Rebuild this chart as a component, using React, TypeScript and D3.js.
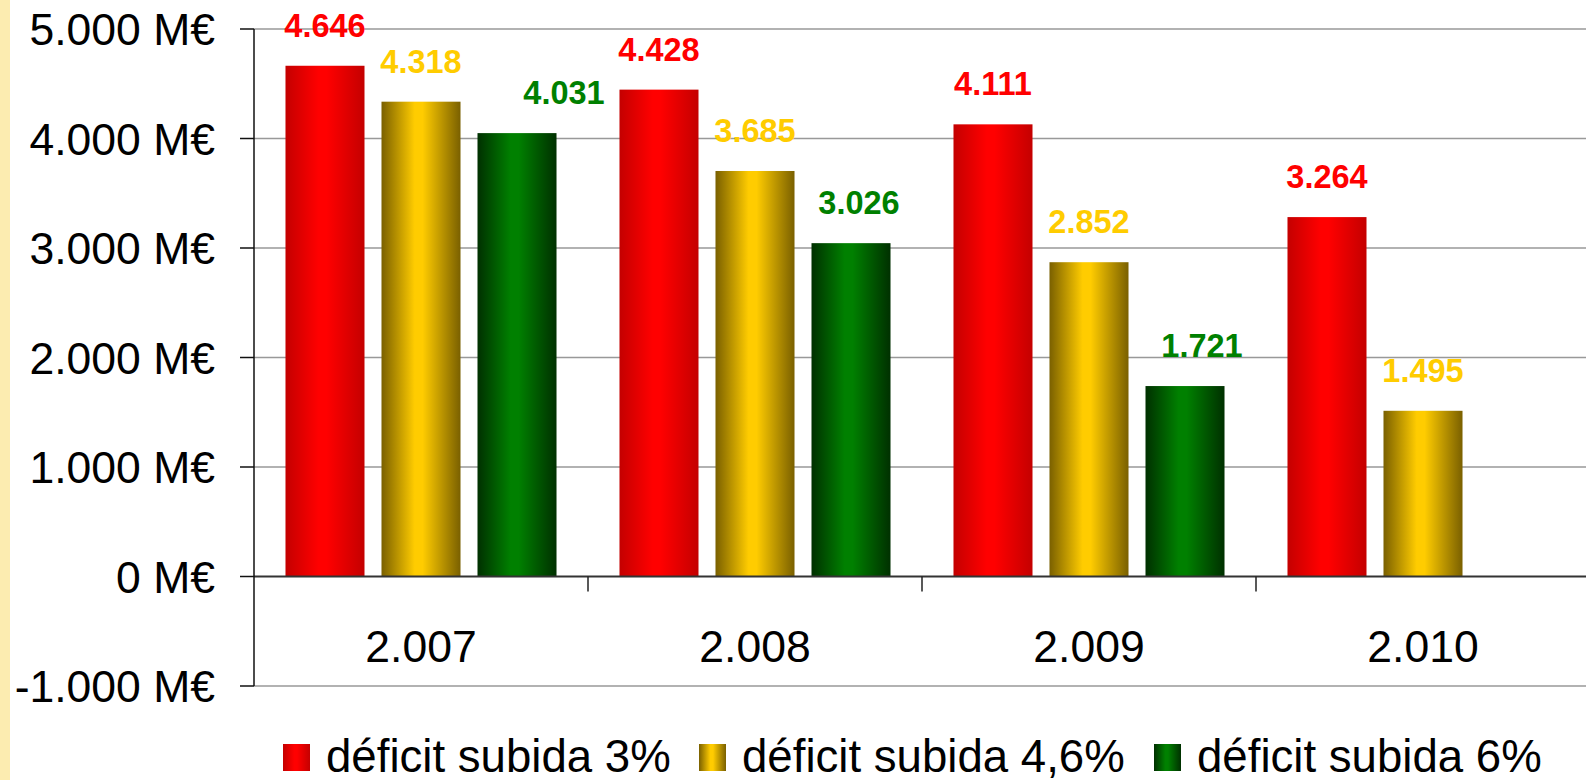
import React from "react";
import * as d3 from "d3";

const years = ["2.007", "2.008", "2.009", "2.010"];
const seriesNames = ["déficit subida 3%", "déficit subida 4,6%", "déficit subida 6%"];
const deficit3 = [4646, 4428, 4111, 3264];
const deficit46 = [4318, 3685, 2852, 1495];
const deficit6 = [4031, 3026, 1721, null];
const yTicks = [-1000, 0, 1000, 2000, 3000, 4000, 5000];

// colours: [edge, centre, label]
const palette = [
  ["#c40000", "#ff0000", "#ff0000"],
  ["#7a6000", "#ffcc00", "#ffcc00"],
  ["#003000", "#008000", "#008000"],
];
// the green labels were dragged sideways by hand in the original
const labelShift = [
  [0, 0, 0, 0],
  [0, 0, 0, 0],
  [47, 8, 17, 0],
];

const W = 1586;
const H = 780;
const font = "'Liberation Sans', Arial, sans-serif";

const fmt = (v: number) => {
  const s = Math.abs(v).toString();
  const withDots = s.replace(/\B(?=(\d{3})+(?!\d))/g, ".");
  return (v < 0 ? "-" : "") + withDots;
};

export default function App() {
  const values = [deficit3, deficit46, deficit6];
  const left = 254;
  const x0 = d3.scaleBand<string>().domain(years).range([left, left + 334 * 4]).padding(0);
  const x1 = d3
    .scaleBand<number>()
    .domain([0, 1, 2])
    .range([0, x0.bandwidth()])
    .paddingInner(0.177)
    .paddingOuter(0.328);
  const y = d3.scaleLinear().domain([-1000, 5000]).range([686, 29]);

  return (
    <div style={{ position: "fixed", left: 0, top: 0, width: W, height: H, overflow: "hidden", background: "#fff" }}>
      <svg width={W} height={H} style={{ display: "block" }} fontFamily={font}>
        <defs>
          {palette.map((p, i) => (
            <linearGradient key={i} id={`grad${i}`} x1="0" x2="1" y1="0" y2="0">
              <stop offset="0%" stopColor={p[0]} />
              <stop offset="42%" stopColor={p[1]} />
              <stop offset="52%" stopColor={p[1]} />
              <stop offset="100%" stopColor={p[0]} />
            </linearGradient>
          ))}
        </defs>

        <rect x={0} y={0} width={10} height={H} fill="#fcecb0" />

        {/* gridlines */}
        {yTicks
          .filter((t) => t !== 0)
          .map((t) => (
            <line key={t} x1={left} x2={W} y1={y(t)} y2={y(t)} stroke="#999" strokeWidth={1.5} />
          ))}

        {/* bars */}
        {years.map((yr, ci) => (
          <g key={yr} transform={`translate(${x0(yr)},0)`}>
            {values.map((vals, si) => {
              const v = vals[ci];
              if (v == null) return null;
              return (
                <rect
                  key={si}
                  x={x1(si)}
                  y={y(v) - 2}
                  width={x1.bandwidth()}
                  height={y(0) - y(v) + 2}
                  fill={`url(#grad${si})`}
                />
              );
            })}
          </g>
        ))}

        {/* value labels */}
        {years.map((yr, ci) =>
          values.map((vals, si) => {
            const v = vals[ci];
            if (v == null) return null;
            const cx = (x0(yr) as number) + (x1(si) as number) + x1.bandwidth() / 2 + labelShift[si][ci];
            return (
              <text
                key={`${yr}-${si}`}
                x={cx}
                y={y(v) - 31}
                textAnchor="middle"
                fontWeight="bold"
                fontSize={32.5}
                fill={palette[si][2]}
              >
                {fmt(v)}
              </text>
            );
          })
        )}

        {/* zero line */}
        <line x1={left} x2={W} y1={y(0)} y2={y(0)} stroke="#333" strokeWidth={2} />
        {/* category ticks */}
        {years.slice(1).map((yr) => (
          <line key={yr} x1={x0(yr)} x2={x0(yr)} y1={y(0)} y2={y(0) + 15} stroke="#222" strokeWidth={1.5} />
        ))}

        {/* y axis */}
        <line x1={left} x2={left} y1={y(5000)} y2={y(-1000)} stroke="#111" strokeWidth={1.5} />
        {yTicks.map((t) => (
          <g key={t}>
            <line x1={240} x2={left} y1={y(t)} y2={y(t)} stroke="#111" strokeWidth={1.5} />
            <text x={215} y={y(t) + 16} textAnchor="end" fontSize={44.5} fill="#000">
              {fmt(t)} M€
            </text>
          </g>
        ))}

        {/* category labels */}
        {years.map((yr) => (
          <text
            key={yr}
            x={(x0(yr) as number) + x0.bandwidth() / 2}
            y={662}
            textAnchor="middle"
            fontSize={44.5}
            fill="#000"
          >
            {yr}
          </text>
        ))}

        {/* legend */}
        {seriesNames.map((name, i) => {
          const starts = [283, 699, 1154];
          return (
            <g key={name} transform={`translate(${starts[i]},744)`}>
              <rect x={0} y={0} width={27} height={27} fill={`url(#grad${i})`} />
              <text x={43} y={28} fontSize={45.6} fill="#000">
                {name}
              </text>
            </g>
          );
        })}
      </svg>
    </div>
  );
}
